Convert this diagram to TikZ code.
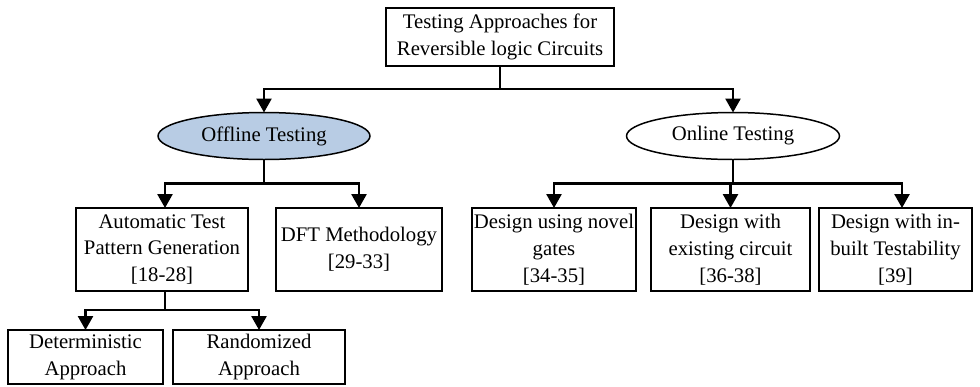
\documentclass[tikz,border=0pt]{standalone}
\usepackage{fontspec}
\setmainfont{Liberation Serif}
\usetikzlibrary{shapes.geometric,arrows.meta}

\begin{document}
\begin{tikzpicture}[x=0.02cm,y=0.02cm,
            every node/.style={inner sep=0pt,outer sep=0pt,align=center,font=\fontsize{11.8}{15.3}\selectfont},
            box/.style={draw=black,line width=0.85pt,rectangle},
            oval/.style={draw=black,line width=0.85pt,ellipse},
            arr/.style={draw=black,line width=1.5pt,-{Triangle[width=0.3cm,length=0.28cm]}}]
            \useasboundingbox (0,0) rectangle (980,-386);
            \node [box,minimum width=4.56cm,minimum height=1.16cm] (top) at (500,-37) {Testing Approaches for\\Reversible logic Circuits};
            \node [oval,fill={rgb,255:red,184;green,204;blue,228},minimum width=4.24cm,minimum height=0.94cm] (off) at (264,-136) {Offline Testing};
            \node [oval,minimum width=4.26cm,minimum height=0.94cm] (on) at (733,-136) {Online Testing};
            \node [box,minimum width=3.44cm,minimum height=1.66cm] (atpg) at (162,-249.5) {Automatic Test\\Pattern Generation\\{[18-28]}};
            \node [box,minimum width=3.32cm,minimum height=1.66cm] (dft) at (359,-249.5) {DFT Methodology\\{[29-33]}};
            \node [box,minimum width=3.10cm,minimum height=1.08cm] (det) at (85.5,-357) {Deterministic\\Approach};
            \node [box,minimum width=3.44cm,minimum height=1.08cm] (rnd) at (259,-357) {Randomized\\Approach};
            \node [box,minimum width=3.28cm,minimum height=1.66cm] (novel) at (554,-249.5) {Design using novel\\gates\\{[34-35]}};
            \node [box,minimum width=3.18cm,minimum height=1.66cm] (exist) at (730.5,-249.5) {Design with\\existing circuit\\{[36-38]}};
            \node [box,minimum width=3.06cm,minimum height=1.66cm] (inb) at (895.5,-249.5) {Design with in-\\built Testability\\{[39]}};
            \draw [arr] (top.south) -- ++(0,-23) -| (off.north);
            \draw [arr] (top.south) -- ++(0,-23) -| (on.north);
            \draw [arr] (off.south) -- ++(0,-24) -| ([xshift=0.06cm]atpg.north);
            \draw [arr] (off.south) -- ++(0,-24) -| (dft.north);
            \draw [arr] ([xshift=0.06cm]atpg.south) -- ++(0,-19) -| (det.north);
            \draw [arr] ([xshift=0.06cm]atpg.south) -- ++(0,-19) -| (rnd.north);
            \draw [arr] (on.south) -- ++(0,-24) -| (novel.north);
            \draw [arr] (on.south) -- ++(0,-24) -| (exist.north);
            \draw [arr] (on.south) -- ++(0,-24) -| ([xshift=0.13cm]inb.north);
        \end{tikzpicture}
\end{document}
